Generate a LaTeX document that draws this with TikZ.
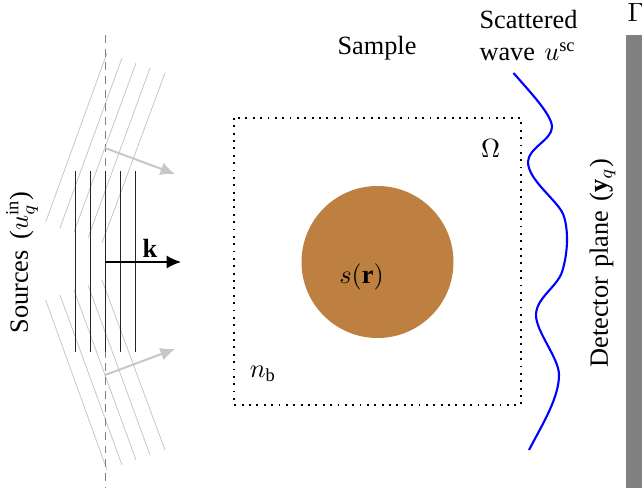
\documentclass[tikz,border=0pt]{standalone}
\usepackage{fontspec}
\setmainfont{Liberation Serif}
\definecolor{sandy}{HTML}{BE8040}
\usetikzlibrary{arrows.meta}
\tikzset{
 px/.style={x=0.38pt,y=-0.38pt},
 lbl/.style={inner sep=0pt,font=\normalsize},
 front/.style={draw=black!85,line width=0.38pt},
 oblique/.style={draw=black!22,line width=0.3pt},
 tilted/.style={draw=black!22,line width=0.75pt,-{Latex[length=5.5pt,width=5pt]}},
 axis/.style={draw=black!50,line width=0.3pt,dash pattern=on 3pt off 2.2pt},
}
\begin{document}
\begin{tikzpicture}[px]
\useasboundingbox (0,0) rectangle (642,493);
\fill[white] (0,0) rectangle (642,493);
\foreach \a/\b/\c/\d in {45.7/222/107/53,60/228/122/58,74/232/136/63,88/238/150/68,102/243/165/73,
 45.7/300/107/470,60/295/122/465,74/290/136/460,88/285/150/455,102/280/165/450}
 \draw[oblique] (\a,\b) -- (\c,\d);
\coordinate (axT) at (105,35); \coordinate (axB) at (105,488);
\draw[axis] (axT) -- (axB);
\foreach \x in {75,90,105,120.2,135.5} \draw[front] (\x,171) -- (\x,352);
\coordinate (oU) at (105,148); \coordinate (eU) at (175,174);
\coordinate (oL) at (105,375); \coordinate (eL) at (175,349);
\coordinate (oK) at (105,262); \coordinate (eK) at (181,262);
\draw[tilted] (oU) -- (eU);
\draw[tilted] (oL) -- (eL);
\draw[line width=0.55pt,-{Latex[length=5.5pt,width=5pt]}] (oK) -- (eK);
\draw[line width=0.7pt,dash pattern=on 0.7pt off 2.1pt] (234,118) rectangle (521,405);
\node[circle,fill=sandy,minimum size=152*0.38pt,inner sep=0pt] (scat) at (377.5,262) {};
\fill[black!50] (626,35) rectangle (660,488);
\draw[blue,line width=0.8pt] (513.5,73) .. controls (530,92) and (552,115) .. (552,127)
 .. controls (552,140) and (528,148) .. (528,162)
 .. controls (528,180) and (557,200) .. (563,214)
 .. controls (568,226) and (569,250) .. (562,272)
 .. controls (557,287) and (536,298) .. (536,315)
 .. controls (536,332) and (559,358) .. (559,375)
 .. controls (559,398) and (542,425) .. (529,450);
\node[lbl,rotate=90,anchor=west] (src) at (22,334) {Sources\hspace{1.5pt} ($u_q^{\mathrm{in}}$)};
\node[lbl,rotate=90,anchor=west] (det) at (602.5,368) {Detector\hspace{1pt} plane\hspace{1pt} ($\mathbf{y}_q$)};
\node[lbl] (sample) at (377,48.5) {Sample};
\node[lbl,anchor=west] (sc1) at (479,20) {Scattered};
\node[lbl,anchor=west] (sc2) at (479,52) {wave\hspace{1pt} $u^{\mathrm{sc}}$};
\node[lbl,anchor=west] (gam) at (627,13) {$\Gamma$};
\node[lbl] (om) at (490.5,149) {$\Omega$};
\node[lbl] (nb) at (263,374) {$n_{\mathrm{b}}$};
\node[lbl] (sr) at (361.5,277) {$s(\mathbf{r})$};
\node[lbl] (k) at (150,248) {$\mathbf{k}$};
\end{tikzpicture}
\end{document}
